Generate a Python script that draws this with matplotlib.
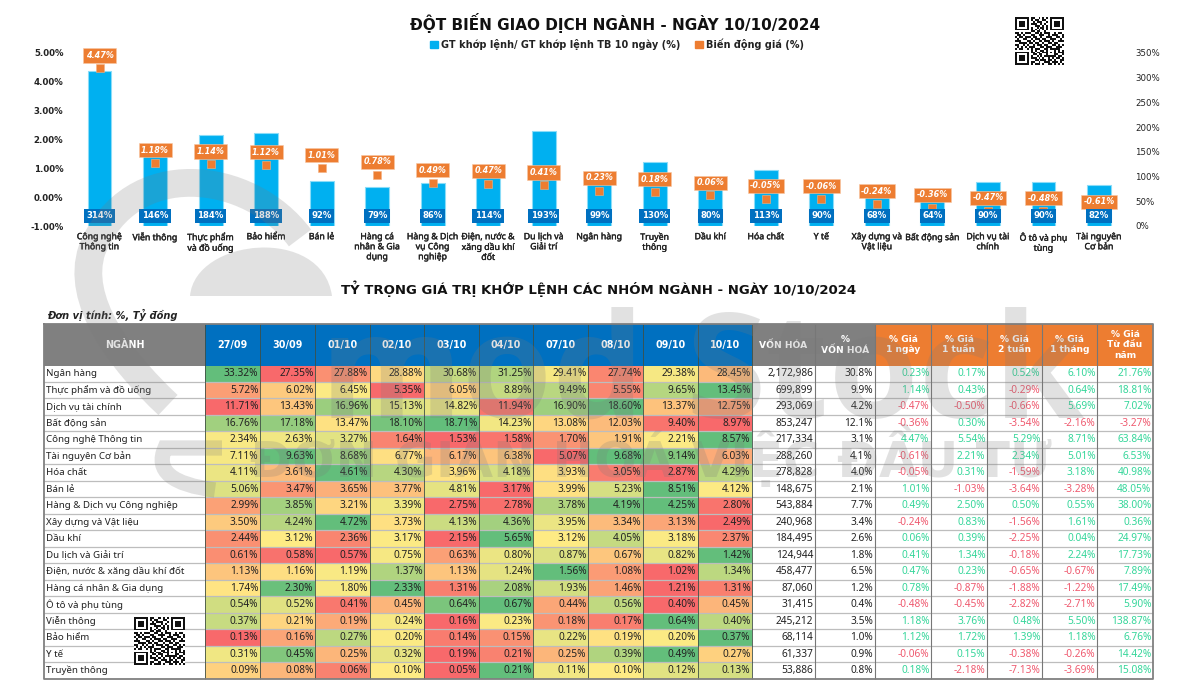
import numpy as np
import matplotlib
matplotlib.use("Agg")
import matplotlib.pyplot as plt
import matplotlib.patheffects as pe
from matplotlib.colors import LinearSegmentedColormap, ListedColormap
from matplotlib.patches import Patch, PathPatch
from matplotlib.path import Path

# --- bieu do tren ---
nganh_chart = ["Công nghệ\nThông tin", "Viễn thông", "Thực phẩm\nvà đồ uống", "Bảo hiểm", "Bán lẻ",
               "Hàng cá\nnhân & Gia\ndụng", "Hàng & Dịch\nvụ Công\nnghiệp", "Điện, nước &\nxăng dầu khí\nđốt",
               "Du lịch và\nGiải trí", "Ngân hàng", "Truyền\nthông", "Dầu khí", "Hóa chất", "Y tế",
               "Xây dựng và\nVật liệu", "Bất động sản", "Dịch vụ tài\nchính", "Ô tô và phụ\ntùng", "Tài nguyên\nCơ bản"]
gt_khop_lenh = [314, 146, 184, 188, 92, 79, 86, 114, 193, 99, 130, 80, 113, 90, 68, 64, 90, 90, 82]
bien_dong_gia = [4.47, 1.18, 1.14, 1.12, 1.01, 0.78, 0.49, 0.47, 0.41, 0.23, 0.18, 0.06, -0.05, -0.06,
                 -0.24, -0.36, -0.47, -0.48, -0.61]

# --- bang duoi ---
ngay = ["27/09", "30/09", "01/10", "02/10", "03/10", "04/10", "07/10", "08/10", "09/10", "10/10"]
nganh_bang = ["Ngân hàng", "Thực phẩm và đồ uống", "Dịch vụ tài chính", "Bất động sản", "Công nghệ Thông tin",
              "Tài nguyên Cơ bản", "Hóa chất", "Bán lẻ", "Hàng & Dịch vụ Công nghiệp", "Xây dựng và Vật liệu",
              "Dầu khí", "Du lịch và Giải trí", "Điện, nước & xăng dầu khí đốt", "Hàng cá nhân & Gia dụng",
              "Ô tô và phụ tùng", "Viễn thông", "Bảo hiểm", "Y tế", "Truyền thông"]
ty_trong = [
    [33.32, 27.35, 27.88, 28.88, 30.68, 31.25, 29.41, 27.74, 29.38, 28.45],
    [5.72, 6.02, 6.45, 5.35, 6.05, 8.89, 9.49, 5.55, 9.65, 13.45],
    [11.71, 13.43, 16.96, 15.13, 14.82, 11.94, 16.90, 18.60, 13.37, 12.75],
    [16.76, 17.18, 13.47, 18.10, 18.71, 14.23, 13.08, 12.03, 9.40, 8.97],
    [2.34, 2.63, 3.27, 1.64, 1.53, 1.58, 1.70, 1.91, 2.21, 8.57],
    [7.11, 9.63, 8.68, 6.77, 6.17, 6.38, 5.07, 9.68, 9.14, 6.03],
    [4.11, 3.61, 4.61, 4.30, 3.96, 4.18, 3.93, 3.05, 2.87, 4.29],
    [5.06, 3.47, 3.65, 3.77, 4.81, 3.17, 3.99, 5.23, 8.51, 4.12],
    [2.99, 3.85, 3.21, 3.39, 2.75, 2.78, 3.78, 4.19, 4.25, 2.80],
    [3.50, 4.24, 4.72, 3.73, 4.13, 4.36, 3.95, 3.34, 3.13, 2.49],
    [2.44, 3.12, 2.36, 3.17, 2.15, 5.65, 3.12, 4.05, 3.18, 2.37],
    [0.61, 0.58, 0.57, 0.75, 0.63, 0.80, 0.87, 0.67, 0.82, 1.42],
    [1.13, 1.16, 1.19, 1.37, 1.13, 1.24, 1.56, 1.08, 1.02, 1.34],
    [1.74, 2.30, 1.80, 2.33, 1.31, 2.08, 1.93, 1.46, 1.21, 1.31],
    [0.54, 0.52, 0.41, 0.45, 0.64, 0.67, 0.44, 0.56, 0.40, 0.45],
    [0.37, 0.21, 0.19, 0.24, 0.16, 0.23, 0.18, 0.17, 0.64, 0.40],
    [0.13, 0.16, 0.27, 0.20, 0.14, 0.15, 0.22, 0.19, 0.20, 0.37],
    [0.31, 0.45, 0.25, 0.32, 0.19, 0.21, 0.25, 0.39, 0.49, 0.27],
    [0.09, 0.08, 0.06, 0.10, 0.05, 0.21, 0.11, 0.10, 0.12, 0.13],
]
von_hoa = [2172986, 699899, 293069, 853247, 217334, 288260, 278828, 148675, 543884, 240968,
           184495, 124944, 458477, 87060, 31415, 245212, 68114, 61337, 53886]
pct_von_hoa = [30.8, 9.9, 4.2, 12.1, 3.1, 4.1, 4.0, 2.1, 7.7, 3.4, 2.6, 1.8, 6.5, 1.2, 0.4, 3.5, 1.0, 0.9, 0.8]
gia_1_ngay = [0.23, 1.14, -0.47, -0.36, 4.47, -0.61, -0.05, 1.01, 0.49, -0.24, 0.06, 0.41, 0.47, 0.78, -0.48,
              1.18, 1.12, -0.06, 0.18]
gia_1_tuan = [0.17, 0.43, -0.50, 0.30, 5.54, 2.21, 0.31, -1.03, 2.50, 0.83, 0.39, 1.34, 0.23, -0.87, -0.45,
              3.76, 1.72, 0.15, -2.18]
gia_2_tuan = [0.52, -0.29, -0.66, -3.54, 5.29, 2.34, -1.59, -3.64, 0.50, -1.56, -2.25, -0.18, -0.65, -1.88, -2.82,
              0.48, 1.39, -0.38, -7.13]
gia_1_thang = [6.10, 0.64, 5.69, -2.16, 8.71, 5.01, 3.18, -3.28, 0.55, 1.61, 0.04, 2.24, -0.67, -1.22, -2.71,
               5.50, 1.18, -0.26, -3.69]
gia_ytd = [21.76, 18.81, 7.02, -3.27, 63.84, 6.53, 40.98, 48.05, 38.00, 0.36, 24.97, 17.73, 7.89, 17.49, 5.90,
           138.87, 6.76, 14.42, 15.08]
header_gia = ["% Giá\n1 ngày", "% Giá\n1 tuần", "% Giá\n2 tuần", "% Giá\n1 tháng", "% Giá\nTừ đầu\nnăm"]

qr_rows = [
    "1111111011001010101111111",
    "1000001010110011001000001",
    "1011101001011100101011101",
    "1011101011100101001011101",
    "1011101000111010101011101",
    "1000001010010110101000001",
    "1111111010101010101111111",
    "0000000011011001000000000",
    "1101011100110101110010110",
    "0110100011001110010111001",
    "1011011101100100111001101",
    "0100110010111011001110010",
    "1110001101001101110100111",
    "0011110110110010011011000",
    "1100101001011101100110101",
    "0101010111000110111001110",
    "1011001010111001101111100",
    "0000000010100110100010101",
    "1111111011011011101010111",
    "1000001001101100100011001",
    "1011101010010101111110110",
    "1011101011101010010101101",
    "1011101000110111011010011",
    "1000001011001001110111010",
    "1111111010111010011010101",
]

W, H = 1200, 688
CAM = "#ED7D31"
XANH = "#00B0F0"
XANH_DAM = "#0070C0"
XAM = "#808080"
TANG = "#35D69A"
GIAM = "#EF5A6F"
FONT_BANG = ["Noto Sans", "DejaVu Sans"]
# Noto Sans chi co ban thuong, lam dam them mot chut
DAM_NHE = [pe.withStroke(linewidth=0.25, foreground="#222222")]

fig = plt.figure(figsize=(W / 100, H / 100), dpi=100, facecolor="white")


def px_rect(x0, y0, x1, y1):
    return [x0 / W, 1 - y1 / H, (x1 - x0) / W, (y1 - y0) / H]


def full_axes(zorder):
    a = fig.add_axes([0, 0, 1, 1], zorder=zorder)
    a.set_xlim(0, W)
    a.set_ylim(H, 0)
    a.axis("off")
    return a


# bang
tb = full_axes(1)
x_edges = [44, 205, 260, 315, 369.5, 424, 478.5, 533, 588, 643, 697.5, 752, 815, 875, 931, 987, 1042, 1097, 1153]
y_head0, y_head1 = 324, 365.5
row_h = 16.49
y_edges = [y_head1 + i * row_h for i in range(len(nganh_bang) + 1)]

arr = np.array(ty_trong)
tmin = arr.min(axis=1, keepdims=True)
tmed = np.median(arr, axis=1, keepdims=True)
tmax = arr.max(axis=1, keepdims=True)
# thang mau 3 diem theo tung dong, giong conditional formatting
norm = np.where(arr <= tmed, 0.5 * (arr - tmin) / (tmed - tmin), 0.5 + 0.5 * (arr - tmed) / (tmax - tmed))
cmap = LinearSegmentedColormap.from_list("ryg", ["#F8696B", "#FFEB84", "#63BE7B"])
tb.pcolormesh(x_edges[1:12], y_edges, norm, cmap=cmap, vmin=0, vmax=1, zorder=1)

tb.fill_between([x_edges[0], x_edges[1]], y_head0, y_head1, color=XAM, lw=0, zorder=1)
tb.fill_between([x_edges[1], x_edges[11]], y_head0, y_head1, color=XANH_DAM, lw=0, zorder=1)
tb.fill_between([x_edges[11], x_edges[13]], y_head0, y_head1, color=XAM, lw=0, zorder=1)
tb.fill_between([x_edges[13], x_edges[18]], y_head0, y_head1, color=CAM, lw=0, zorder=1)

tb.hlines(y_edges[1:-1], x_edges[0], x_edges[-1], color="#BDBDBD", lw=0.9, zorder=2)
tb.vlines(x_edges[1:12], y_head0, y_edges[-1], color="#3F4F45", lw=0.6, zorder=2)
tb.vlines(x_edges[12:18], y_head0, y_edges[-1], color="#777777", lw=0.8, zorder=2)
tb.plot([x_edges[0], x_edges[-1], x_edges[-1], x_edges[0], x_edges[0]],
        [y_head0, y_head0, y_edges[-1], y_edges[-1], y_head0], color="#808080", lw=1.3, zorder=3)

y_head = (y_head0 + y_head1) / 2
tb.text((x_edges[0] + x_edges[1]) / 2, y_head, "NGÀNH", color="white", fontsize=6.9, fontweight="bold",
        ha="center", va="center", zorder=4)
for i, d in enumerate(ngay):
    tb.text((x_edges[i + 1] + x_edges[i + 2]) / 2, y_head, d, color="white", fontsize=6.9, fontweight="bold",
            ha="center", va="center", zorder=4)
tb.text((x_edges[11] + x_edges[12]) / 2, y_head, "VỐN HÓA", color="white", fontsize=6.6, fontweight="bold",
        ha="center", va="center", zorder=4)
tb.text((x_edges[12] + x_edges[13]) / 2, y_head, "%\nVỐN HOÁ", color="white", fontsize=6.6, fontweight="bold",
        ha="center", va="center", linespacing=1.2, zorder=4)
for i, h in enumerate(header_gia):
    tb.text((x_edges[13 + i] + x_edges[14 + i]) / 2, y_head, h, color="white", fontsize=6.6, fontweight="bold",
            ha="center", va="center", linespacing=1.2, zorder=4)

cot_gia = [gia_1_ngay, gia_1_tuan, gia_2_tuan, gia_1_thang, gia_ytd]
for r, ten in enumerate(nganh_bang):
    yc = (y_edges[r] + y_edges[r + 1]) / 2
    tb.text(x_edges[0] + 2, yc, ten, fontsize=7.0, color="#222222", ha="left", va="center",
            family=FONT_BANG, zorder=4)
    for c in range(10):
        tb.text(x_edges[c + 2] - 1.5, yc, f"{ty_trong[r][c]:.2f}%", fontsize=7.3, color="#222222",
                ha="right", va="center", family=FONT_BANG, zorder=4)
    tb.text(x_edges[12] - 2, yc, f"{von_hoa[r]:,}", fontsize=7.3, color="#222222", ha="right", va="center",
            family=FONT_BANG, zorder=4)
    tb.text(x_edges[13] - 2, yc, f"{pct_von_hoa[r]:.1f}%", fontsize=7.3, color="#222222", ha="right", va="center",
            family=FONT_BANG, zorder=4)
    for c, cot in enumerate(cot_gia):
        v = cot[r]
        tb.text(x_edges[14 + c] - 1.5, yc, f"{v:.2f}%", fontsize=7.3, color=TANG if v >= 0 else GIAM,
                ha="right", va="center", family=FONT_BANG, zorder=4)

tb.text(47, 315, "Đơn vị tính: %, Tỷ đồng", fontsize=7.1, fontweight="bold", fontstyle="italic",
        color="#222222", ha="left", va="center")
tb.text(615.5, 23, "ĐỘT BIẾN GIAO DỊCH NGÀNH - NGÀY 10/10/2024", fontsize=11.0, fontweight="bold",
        color="#111111", ha="center", va="center")
tb.text(598.5, 289, "TỶ TRỌNG GIÁ TRỊ KHỚP LỆNH CÁC NHÓM NGÀNH - NGÀY 10/10/2024", fontsize=9.5, fontweight="bold",
        color="#111111", ha="center", va="center")

# bieu do
ax2 = fig.add_axes(px_rect(71.75, 53, 1126.75, 226), zorder=2)
ax1 = ax2.twinx()
ax1.set_zorder(3)
ax2.patch.set_visible(False)
ax1.patch.set_visible(False)
xs = np.arange(len(nganh_chart))

ax2.bar(xs, gt_khop_lenh, width=0.43, color=XANH, edgecolor="#8ADCF8", linewidth=0.8)
ax2.set_xlim(-0.5, len(xs) - 0.5)
ax2.set_ylim(0, 350)
ax1.set_ylim(-1, 5)
ax1.plot(xs, bien_dong_gia, ls="none", marker="s", ms=5.2, color=CAM, mec="#F4B183", mew=0.4, zorder=3)

for s in ["top", "left", "right", "bottom"]:
    ax1.spines[s].set_visible(False)
    ax2.spines[s].set_visible(False)

# hai truc hoan doi: gia ben trai, GT ben phai
ax1.yaxis.tick_left()
ax2.yaxis.tick_right()
ax1.set_yticks(range(-1, 6))
ax1.set_yticklabels([f"{v:.2f}%" for v in range(-1, 6)], fontsize=6.2, fontweight="bold", color="#222222")
ax2.set_yticks(range(0, 351, 50))
ax2.set_yticklabels([f"{v}%" for v in range(0, 351, 50)], fontsize=6.2, color="#222222")
ax1.tick_params(axis="y", length=0, pad=6)
ax2.tick_params(axis="y", length=0, pad=6)
ax1.set_xticks([])
ax2.set_xticks(xs)
ax2.set_xticklabels(nganh_chart, fontsize=6.3, color="#222222", linespacing=1.15, family=FONT_BANG,
                    path_effects=DAM_NHE)
ax2.tick_params(axis="x", length=0, pad=4.5)

for x, v, g in zip(xs, bien_dong_gia, gt_khop_lenh):
    ax1.annotate(f"{v:.2f}%", (x, v), xytext=(0, 9.2), textcoords="offset points", ha="center", va="center",
                 fontsize=5.8, fontweight="bold", fontstyle="italic", color="white", zorder=5,
                 bbox=dict(boxstyle="square,pad=0.32", fc=CAM, ec="#F8C7A4", lw=0.4))
    ax1.annotate(f"{g}%", (x, -1), xytext=(0, 7.4), textcoords="offset points", ha="center", va="center",
                 fontsize=6.1, fontweight="bold", color="white", zorder=6,
                 bbox=dict(boxstyle="square,pad=0.3", fc=XANH_DAM, ec="none"))

handles = [Patch(color=XANH, label="GT khớp lệnh/ GT khớp lệnh TB 10 ngày (%)"),
           Patch(color=CAM, label="Biến động giá (%)")]
fig.legend(handles=handles, loc="center", bbox_to_anchor=(617 / W, 1 - 44 / H), ncol=2, frameon=False,
           prop=dict(weight="bold", size=7.0, family="DejaVu Sans"), handlelength=0.8, handleheight=0.8,
           handletextpad=0.3, columnspacing=1.5, labelcolor="#222222")

# watermark de len tren tat ca
wm = full_axes(5)
WM_COLOR = "#7A7A7A"
WM_ALPHA = 0.22
top_arc = Path([(300, 238), (250, 170), (130, 155), (92, 250), (75, 300), (120, 360), (168, 405)],
               [Path.MOVETO, Path.CURVE4, Path.CURVE4, Path.CURVE4, Path.CURVE4, Path.CURVE4, Path.CURVE4])
wm.add_patch(PathPatch(top_arc, fc="none", ec=WM_COLOR, lw=20, alpha=WM_ALPHA, capstyle="butt"))
low_arc = Path([(222, 448), (165, 448), (150, 482), (215, 490)],
               [Path.MOVETO, Path.LINETO, Path.CURVE3, Path.CURVE3])
wm.add_patch(PathPatch(low_arc, fc="none", ec=WM_COLOR, lw=11, alpha=WM_ALPHA, capstyle="butt"))
dome = Path([(190, 296), (195, 238), (322, 225), (332, 296), (190, 296)],
            [Path.MOVETO, Path.CURVE4, Path.CURVE4, Path.CURVE4, Path.CLOSEPOLY])
wm.add_patch(PathPatch(dome, fc=WM_COLOR, ec="none", alpha=WM_ALPHA))
wm.text(645, 418, "mod", fontsize=105, fontweight="bold", family="Open Sans", color=WM_COLOR, alpha=WM_ALPHA,
        ha="right", va="baseline")
wm.text(685, 418, "Stock", fontsize=105, fontweight="bold", family="Open Sans", color=WM_COLOR, alpha=WM_ALPHA,
        ha="left", va="baseline")
wm.text(250, 477, "ĐƠN GIẢN HOÁ VIỆC ĐẦU TƯ", fontsize=36, fontweight="bold", color=WM_COLOR, alpha=WM_ALPHA,
        ha="left", va="baseline")

# QR
qr = np.array([[int(ch) for ch in row] for row in qr_rows])
qr_cmap = ListedColormap(["white", "#111111"])
wm.imshow(qr, extent=(1015, 1064, 65, 17), cmap=qr_cmap, aspect="auto", interpolation="nearest", zorder=6)
wm.imshow(qr, extent=(134, 185, 665, 617), cmap=qr_cmap, aspect="auto", interpolation="nearest", zorder=6)
wm.set_xlim(0, W)
wm.set_ylim(H, 0)

fig.savefig("out.png", dpi=100)
